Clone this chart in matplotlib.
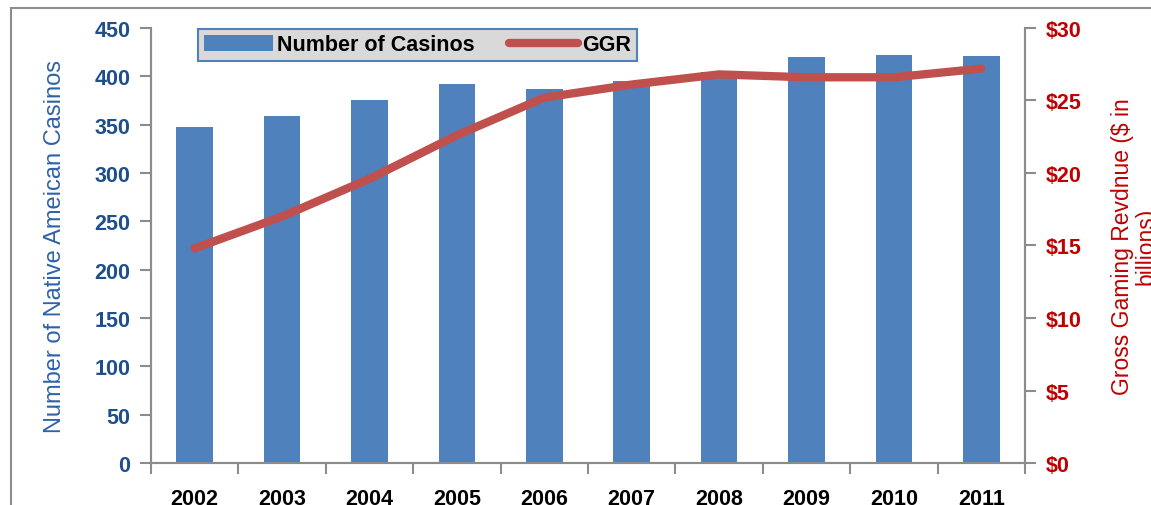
import matplotlib.pyplot as plt
from matplotlib.patches import Rectangle

years = ["2002", "2003", "2004", "2005", "2006", "2007", "2008", "2009", "2010", "2011"]
casinos = [348, 359, 375, 392, 387, 395, 404, 420, 422, 421]
ggr = [14.8, 17.0, 19.6, 22.6, 25.2, 26.1, 26.8, 26.6, 26.6, 27.2]

plt.rcParams['font.family'] = ['Liberation Sans', 'DejaVu Sans']

blue = "#4F81BD"
red = "#C0504D"
left_col = "#1F4E8C"
right_col = "#C00000"
grey = "#8C8C8C"

fig = plt.figure(figsize=(11.51, 5.06), dpi=100)
ax = fig.add_axes([0.1312, 0.083, 0.7593, 0.8597])
ax2 = ax.twinx()

x = list(range(len(years)))
bars = ax.bar(x, casinos, width=0.42, color=blue, label="Number of Casinos", zorder=2)
line, = ax2.plot(x, ggr, color=red, lw=6, solid_capstyle='round', label="GGR", zorder=3)

ax.set_xlim(-0.5, len(years) - 0.5)
ax.set_ylim(0, 450)
ax2.set_ylim(0, 30)

ax.set_xticks(x)
ax.set_xticklabels(years, fontsize=15.5, fontweight='bold', color='black')
ax.set_xticks([i - 0.5 for i in range(len(years) + 1)], minor=True)
ax.tick_params(axis='x', which='major', length=0, pad=18)
ax.tick_params(axis='x', which='minor', length=8, color=grey, width=1.5)

left_ticks = list(range(0, 451, 50))
ax.set_yticks(left_ticks)
ax.set_yticklabels([str(v) for v in left_ticks], fontsize=15.5, fontweight='bold', color=left_col)
right_ticks = list(range(0, 31, 5))
ax2.set_yticks(right_ticks)
ax2.set_yticklabels([f"${v}" for v in right_ticks], fontsize=15.5, fontweight='bold', color=right_col)
ax.tick_params(axis='y', length=8, color=grey, width=1.5, pad=7)
ax2.tick_params(axis='y', length=8, color=grey, width=1.5, pad=7)

for a in (ax, ax2):
    a.spines['top'].set_visible(False)
    for s in ('left', 'right', 'bottom'):
        a.spines[s].set_color(grey)
        a.spines[s].set_linewidth(1.5)

ax.set_ylabel("Number of Native Ameican Casinos", fontsize=17, color="#2E62A8")
ax.yaxis.set_label_coords(-0.097, 0.5)
ax2.set_ylabel("Gross Gaming Revdnue ($ in\nbillions)", fontsize=16.5,
               color=right_col, rotation=90, linespacing=1.0, ha='center', va='center')
ax2.yaxis.set_label_coords(1.125, 0.5)

leg = ax.legend([bars, line], ["Number of Casinos", "GGR"], loc='upper left',
                bbox_to_anchor=(0.053, 1.0), ncol=2, frameon=True, fancybox=False,
                prop={'weight': 'bold', 'size': 15.5}, handlelength=3.2, handleheight=0.8,
                handletextpad=0.2, columnspacing=1.6, borderpad=0.25, borderaxespad=0.05)
leg.get_frame().set_facecolor("#D9D9D9")
leg.get_frame().set_edgecolor(blue)
leg.get_frame().set_linewidth(1.5)
leg.get_frame().set_alpha(1)

fig.patches.append(Rectangle((0.0095, -0.05), 1.1, 1.032, transform=fig.transFigure,
                             fill=False, edgecolor=grey, lw=1.5, zorder=5))

fig.savefig("out.png", dpi=100)
